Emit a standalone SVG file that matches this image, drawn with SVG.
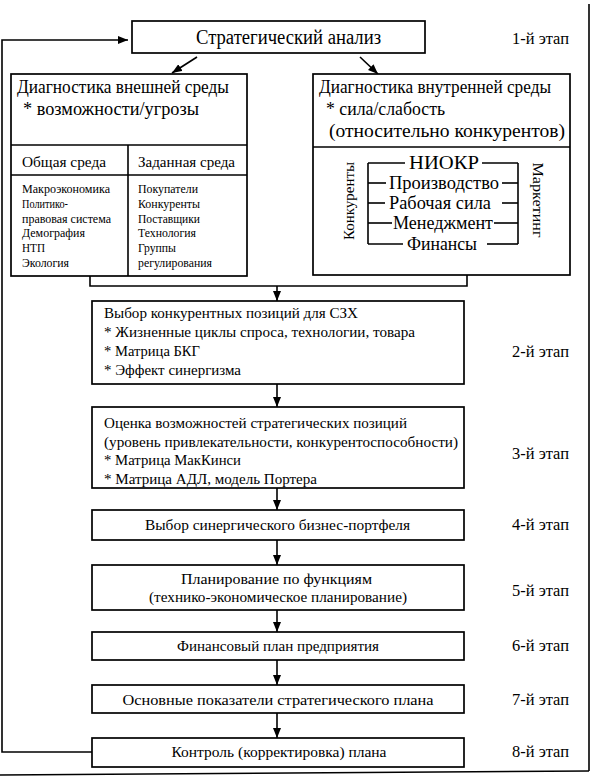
<svg xmlns="http://www.w3.org/2000/svg" width="591" height="777" viewBox="0 0 591 777" font-family="'Liberation Serif', 'DejaVu Serif', serif">
<style>
.box{fill:#fff;stroke:#000;stroke-width:1.7}
.ln{fill:none;stroke:#000;stroke-width:1.6}
.ar{fill:none;stroke:#000;stroke-width:1.6;marker-end:url(#ah)}
.t{font-family:"Liberation Serif","DejaVu Serif",serif;fill:#000}
.s20{font-size:20px}
.s18{font-size:18px}
.s16{font-size:16px}
.s15{font-size:15px}
.s12{font-size:12px}
.m{text-anchor:middle}
</style>
<defs>
<marker id="ah" markerUnits="userSpaceOnUse" markerWidth="10" markerHeight="8" refX="10" refY="4" orient="auto">
<path d="M0,0 L10,4 L0,8 z" fill="#000"/>
</marker>
</defs>
<rect width="591" height="777" fill="#fff"/>
<g id="frame">
<line class="ln" x1="589" y1="4" x2="589" y2="771"/>
<line class="ln" x1="0" y1="775" x2="589" y2="771"/>
</g>
<g id="connectors">
<polyline class="ar" points="92,752 2,752 2,40 128,40"/>
<line class="ar" x1="197" y1="57" x2="172" y2="73"/>
<line class="ar" x1="360" y1="57" x2="378" y2="74"/>
<polyline class="ln" points="90,276 90,286 467,286 467,275"/>
<line class="ar" x1="277" y1="286" x2="277" y2="301"/>
<line class="ar" x1="277" y1="384" x2="277" y2="407"/>
<line class="ar" x1="277" y1="488" x2="277" y2="510"/>
<line class="ar" x1="277" y1="540" x2="277" y2="565"/>
<line class="ar" x1="277" y1="610" x2="277" y2="632"/>
<line class="ar" x1="277" y1="660" x2="277" y2="685"/>
<line class="ar" x1="277" y1="713" x2="277" y2="738"/>
</g>
<g id="n1">
<rect class="box" x="132" y="21" width="293" height="32"/>
<text class="t s20" x="196" y="44" textLength="185" lengthAdjust="spacingAndGlyphs">Стратегический анализ</text>
</g>
<g id="ext">
<rect class="box" x="11" y="74" width="236" height="202"/>
<line class="ln" x1="11" y1="145" x2="247" y2="145"/>
<line class="ln" x1="11" y1="175" x2="247" y2="175"/>
<line class="ln" x1="128" y1="145" x2="128" y2="276"/>
<text class="t s18" x="17" y="93" textLength="212" lengthAdjust="spacingAndGlyphs">Диагностика внешней среды</text>
<text class="t s18" x="23" y="115" textLength="176" lengthAdjust="spacingAndGlyphs">* возможности/угрозы</text>
<text class="t s15" x="22" y="167" textLength="84" lengthAdjust="spacingAndGlyphs">Общая среда</text>
<text class="t s15" x="138" y="167" textLength="97" lengthAdjust="spacingAndGlyphs">Заданная среда</text>
<g class="t s12">
<text x="22" y="193" textLength="88" lengthAdjust="spacingAndGlyphs">Макроэкономика</text>
<text x="22" y="207.5" textLength="46" lengthAdjust="spacingAndGlyphs">Политико-</text>
<text x="22" y="222.5" textLength="89" lengthAdjust="spacingAndGlyphs">правовая система</text>
<text x="22" y="237" textLength="63" lengthAdjust="spacingAndGlyphs">Демография</text>
<text x="22" y="252" textLength="23" lengthAdjust="spacingAndGlyphs">НТП</text>
<text x="22" y="267" textLength="47" lengthAdjust="spacingAndGlyphs">Экология</text>
<text x="138" y="193" textLength="60" lengthAdjust="spacingAndGlyphs">Покупатели</text>
<text x="138" y="207.5" textLength="62" lengthAdjust="spacingAndGlyphs">Конкуренты</text>
<text x="138" y="222.5" textLength="62" lengthAdjust="spacingAndGlyphs">Поставщики</text>
<text x="138" y="237" textLength="58" lengthAdjust="spacingAndGlyphs">Технология</text>
<text x="138" y="252" textLength="38" lengthAdjust="spacingAndGlyphs">Группы</text>
<text x="138" y="267" textLength="74" lengthAdjust="spacingAndGlyphs">регулирования</text>
</g>
</g>
<g id="int">
<rect class="box" x="313" y="74" width="257" height="201"/>
<line class="ln" x1="313" y1="147" x2="570" y2="147"/>
<text class="t s18" x="319" y="93" textLength="232" lengthAdjust="spacingAndGlyphs">Диагностика внутренней среды</text>
<text class="t s18" x="326" y="115" textLength="119" lengthAdjust="spacingAndGlyphs">* сила/слабость</text>
<text class="t s18" x="329" y="137" textLength="236" lengthAdjust="spacingAndGlyphs">(относительно конкурентов)</text>
<line class="ln" x1="368" y1="163" x2="368" y2="244"/>
<line class="ln" x1="518" y1="163" x2="518" y2="244"/>
<line class="ln" x1="368" y1="163" x2="405" y2="163"/>
<line class="ln" x1="482" y1="163" x2="518" y2="163"/>
<line class="ln" x1="368" y1="183" x2="386" y2="183"/>
<line class="ln" x1="502" y1="183" x2="518" y2="183"/>
<line class="ln" x1="368" y1="203" x2="385" y2="203"/>
<line class="ln" x1="502" y1="203" x2="518" y2="203"/>
<line class="ln" x1="368" y1="223" x2="392" y2="223"/>
<line class="ln" x1="494" y1="223" x2="518" y2="223"/>
<line class="ln" x1="368" y1="244" x2="403" y2="244"/>
<line class="ln" x1="487" y1="244" x2="518" y2="244"/>
<text class="t s18 m" x="444" y="169" textLength="70" lengthAdjust="spacingAndGlyphs">НИОКР</text>
<text class="t s18 m" x="444" y="189" textLength="110" lengthAdjust="spacingAndGlyphs">Производство</text>
<text class="t s18 m" x="440" y="209" textLength="102" lengthAdjust="spacingAndGlyphs">Рабочая сила</text>
<text class="t s18 m" x="443" y="229" textLength="100" lengthAdjust="spacingAndGlyphs">Менеджмент</text>
<text class="t s18 m" x="442" y="250" textLength="70" lengthAdjust="spacingAndGlyphs">Финансы</text>
<text class="t s15 m" transform="translate(354,201) rotate(-90)" textLength="78" lengthAdjust="spacingAndGlyphs">Конкуренты</text>
<text class="t s15 m" transform="translate(533,200) rotate(90)" textLength="75" lengthAdjust="spacingAndGlyphs">Маркетинг</text>
</g>
<g id="n2">
<rect class="box" x="92" y="301" width="372" height="83"/>
<text class="t s15" x="104" y="318" textLength="254" lengthAdjust="spacingAndGlyphs">Выбор конкурентных позиций для СЗХ</text>
<text class="t s15" x="104" y="337" textLength="311" lengthAdjust="spacingAndGlyphs">* Жизненные циклы спроса, технологии, товара</text>
<text class="t s15" x="104" y="356" textLength="96" lengthAdjust="spacingAndGlyphs">* Матрица БКГ</text>
<text class="t s15" x="104" y="375" textLength="137" lengthAdjust="spacingAndGlyphs">* Эффект синергизма</text>
</g>
<g id="n3">
<rect class="box" x="92" y="407" width="372" height="81"/>
<text class="t s15" x="104" y="428" textLength="303" lengthAdjust="spacingAndGlyphs">Оценка возможностей стратегических позиций</text>
<text class="t s15" x="104" y="447" textLength="354" lengthAdjust="spacingAndGlyphs">(уровень привлекательности, конкурентоспособности)</text>
<text class="t s15" x="104" y="465" textLength="137" lengthAdjust="spacingAndGlyphs">* Матрица МакКинси</text>
<text class="t s15" x="104" y="484" textLength="213" lengthAdjust="spacingAndGlyphs">* Матрица АДЛ, модель Портера</text>
</g>
<g id="n4">
<rect class="box" x="92" y="510" width="372" height="30"/>
<text class="t s15 m" x="277.5" y="530" textLength="265" lengthAdjust="spacingAndGlyphs">Выбор синергического бизнес-портфеля</text>
</g>
<g id="n5">
<rect class="box" x="92" y="565" width="372" height="45"/>
<text class="t s15 m" x="276.5" y="584" textLength="191" lengthAdjust="spacingAndGlyphs">Планирование по функциям</text>
<text class="t s15 m" x="278" y="602" textLength="258" lengthAdjust="spacingAndGlyphs">(технико-экономическое планирование)</text>
</g>
<g id="n6">
<rect class="box" x="92" y="632" width="372" height="28"/>
<text class="t s15 m" x="278" y="651" textLength="202" lengthAdjust="spacingAndGlyphs">Финансовый план предприятия</text>
</g>
<g id="n7">
<rect class="box" x="92" y="685" width="372" height="28"/>
<text class="t s15 m" x="278" y="705" textLength="311" lengthAdjust="spacingAndGlyphs">Основные показатели стратегического плана</text>
</g>
<g id="n8">
<rect class="box" x="92" y="738" width="372" height="29"/>
<text class="t s15 m" x="279" y="757" textLength="215" lengthAdjust="spacingAndGlyphs">Контроль (корректировка) плана</text>
</g>
<g id="stages" class="t s16">
<text x="512" y="44" textLength="57" lengthAdjust="spacingAndGlyphs">1-й этап</text>
<text x="512" y="357" textLength="57" lengthAdjust="spacingAndGlyphs">2-й этап</text>
<text x="512" y="459" textLength="57" lengthAdjust="spacingAndGlyphs">3-й этап</text>
<text x="512" y="530" textLength="57" lengthAdjust="spacingAndGlyphs">4-й этап</text>
<text x="512" y="596" textLength="57" lengthAdjust="spacingAndGlyphs">5-й этап</text>
<text x="512" y="651" textLength="57" lengthAdjust="spacingAndGlyphs">6-й этап</text>
<text x="512" y="705" textLength="57" lengthAdjust="spacingAndGlyphs">7-й этап</text>
<text x="512" y="757" textLength="57" lengthAdjust="spacingAndGlyphs">8-й этап</text>
</g>
</svg>
